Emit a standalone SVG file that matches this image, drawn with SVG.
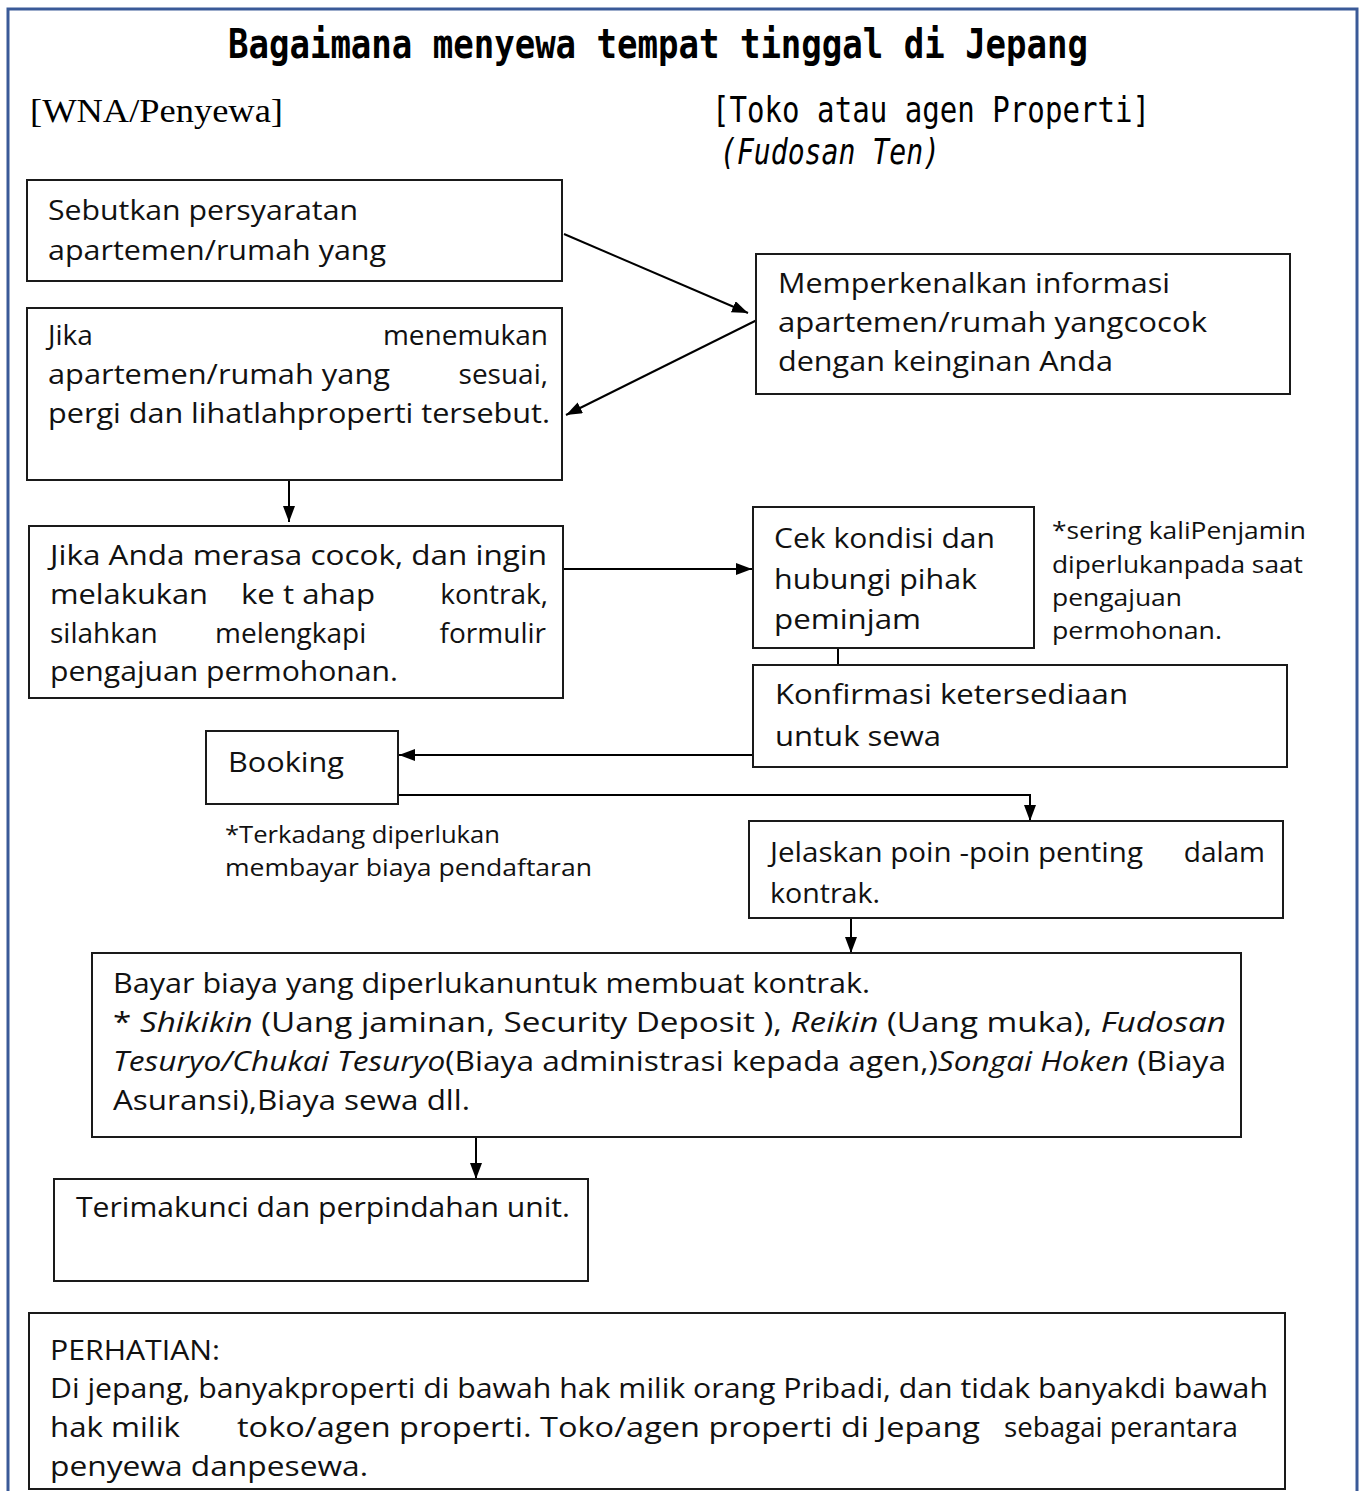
<svg xmlns="http://www.w3.org/2000/svg" width="1365" height="1491" viewBox="0 0 1365 1491">
<style>
.box{fill:#fff;stroke:#1a1a1a;stroke-width:2}
.t{font-family:"Open Sans","Noto Sans",sans-serif;font-size:28px;fill:#111}
.n{font-family:"Open Sans","Noto Sans",sans-serif;font-size:23px;fill:#111}
.g{font-family:"DejaVu Sans Mono","Liberation Mono",monospace;fill:#000}
.m{font-family:"Liberation Serif","DejaVu Serif",serif;fill:#000}
.c{fill:none;stroke:#000;stroke-width:2}
.i{font-style:italic}
</style>
<defs>
<marker id="ah" markerUnits="userSpaceOnUse" markerWidth="18" markerHeight="14" refX="16" refY="6" orient="auto">
<path d="M0,0 L16,6 L0,12 z" fill="#000"/>
</marker>
</defs>
<rect x="0" y="0" width="1365" height="1491" fill="#fff"/>
<rect x="8" y="9" width="1349" height="1500" fill="none" stroke="#3a5a98" stroke-width="3"/>

<g id="title">
<text class="g" x="228" y="58" font-size="40" font-weight="bold" textLength="860" lengthAdjust="spacingAndGlyphs">Bagaimana menyewa tempat tinggal di Jepang</text>
</g>
<g id="header-left">
<text class="m" x="30" y="122" font-size="34" textLength="253" lengthAdjust="spacingAndGlyphs">[WNA/Penyewa]</text>
</g>
<g id="header-right">
<text class="g" x="712" y="122" font-size="35" textLength="438" lengthAdjust="spacingAndGlyphs">[Toko atau agen Properti]</text>
<text class="g i" x="720" y="164" font-size="35" textLength="220" lengthAdjust="spacingAndGlyphs">(Fudosan Ten)</text>
</g>

<g id="connectors">
<path class="c" d="M564,234 L748,313" marker-end="url(#ah)"/>
<path class="c" d="M757,320 L566,415" marker-end="url(#ah)"/>
<path class="c" d="M289,481 L289,522" marker-end="url(#ah)"/>
<path class="c" d="M563,569 L752,569" marker-end="url(#ah)"/>
<path class="c" d="M838,649 L838,665"/>
<path class="c" d="M753,755 L399,755" marker-end="url(#ah)"/>
<path class="c" d="M398,795 L1030,795 L1030,821" marker-end="url(#ah)"/>
<path class="c" d="M851,918 L851,953" marker-end="url(#ah)"/>
<path class="c" d="M476,1137 L476,1179" marker-end="url(#ah)"/>
</g>

<g id="n1">
<rect class="box" x="27" y="180" width="535" height="101"/>
<text class="t" x="48" y="220" textLength="310" lengthAdjust="spacingAndGlyphs">Sebutkan persyaratan</text>
<text class="t" x="48" y="260" textLength="338" lengthAdjust="spacingAndGlyphs">apartemen/rumah yang</text>
</g>

<g id="n2">
<rect class="box" x="27" y="308" width="535" height="172"/>
<text class="t" x="48" y="345">Jika</text>
<text class="t" x="548" y="345" text-anchor="end">menemukan</text>
<text class="t" x="48" y="384" textLength="342" lengthAdjust="spacingAndGlyphs">apartemen/rumah yang</text>
<text class="t" x="548" y="384" text-anchor="end">sesuai,</text>
<text class="t" x="48" y="423" textLength="502" lengthAdjust="spacingAndGlyphs">pergi dan lihatlahproperti tersebut.</text>
</g>

<g id="n3">
<rect class="box" x="756" y="254" width="534" height="140"/>
<text class="t" x="778" y="293" textLength="392" lengthAdjust="spacingAndGlyphs">Memperkenalkan informasi</text>
<text class="t" x="778" y="332" textLength="429" lengthAdjust="spacingAndGlyphs">apartemen/rumah yangcocok</text>
<text class="t" x="778" y="371" textLength="335" lengthAdjust="spacingAndGlyphs">dengan keinginan Anda</text>
</g>

<g id="n4">
<rect class="box" x="29" y="526" width="534" height="172"/>
<text class="t" x="50" y="565" textLength="497" lengthAdjust="spacingAndGlyphs">Jika Anda merasa cocok, dan ingin</text>
<text class="t" x="50" y="604" textLength="158" lengthAdjust="spacingAndGlyphs">melakukan</text>
<text class="t" x="241" y="604" textLength="134" lengthAdjust="spacingAndGlyphs">ke t ahap</text>
<text class="t" x="548" y="604" text-anchor="end">kontrak,</text>
<text class="t" x="50" y="643">silahkan</text>
<text class="t" x="215" y="643">melengkapi</text>
<text class="t" x="546" y="643" text-anchor="end">formulir</text>
<text class="t" x="50" y="681" textLength="348" lengthAdjust="spacingAndGlyphs">pengajuan permohonan.</text>
</g>

<g id="n5">
<rect class="box" x="753" y="507" width="281" height="141"/>
<text class="t" x="774" y="548" textLength="221" lengthAdjust="spacingAndGlyphs">Cek kondisi dan</text>
<text class="t" x="774" y="589" textLength="203" lengthAdjust="spacingAndGlyphs">hubungi pihak</text>
<text class="t" x="774" y="629" textLength="147" lengthAdjust="spacingAndGlyphs">peminjam</text>
</g>

<g id="note-penjamin">
<text class="n" x="1052" y="539" textLength="254" lengthAdjust="spacingAndGlyphs">*sering kaliPenjamin</text>
<text class="n" x="1052" y="573" textLength="251" lengthAdjust="spacingAndGlyphs">diperlukanpada saat</text>
<text class="n" x="1052" y="606" textLength="130" lengthAdjust="spacingAndGlyphs">pengajuan</text>
<text class="n" x="1052" y="639" textLength="170" lengthAdjust="spacingAndGlyphs">permohonan.</text>
</g>

<g id="n6">
<rect class="box" x="753" y="665" width="534" height="102"/>
<text class="t" x="775" y="704" textLength="353" lengthAdjust="spacingAndGlyphs">Konfirmasi ketersediaan</text>
<text class="t" x="775" y="746" textLength="166" lengthAdjust="spacingAndGlyphs">untuk sewa</text>
</g>

<g id="n7">
<rect class="box" x="206" y="731" width="192" height="73"/>
<text class="t" x="228" y="772" textLength="116" lengthAdjust="spacingAndGlyphs">Booking</text>
</g>

<g id="note-booking">
<text class="n" x="225" y="843" textLength="275" lengthAdjust="spacingAndGlyphs">*Terkadang diperlukan</text>
<text class="n" x="225" y="876" textLength="367" lengthAdjust="spacingAndGlyphs">membayar biaya pendaftaran</text>
</g>

<g id="n8">
<rect class="box" x="749" y="821" width="534" height="97"/>
<text class="t" x="770" y="862" textLength="373" lengthAdjust="spacingAndGlyphs">Jelaskan poin -poin penting</text>
<text class="t" x="1265" y="862" text-anchor="end">dalam</text>
<text class="t" x="770" y="903" textLength="110" lengthAdjust="spacingAndGlyphs">kontrak.</text>
</g>

<g id="n9">
<rect class="box" x="92" y="953" width="1149" height="184"/>
<text class="t" x="113" y="993" textLength="757" lengthAdjust="spacingAndGlyphs">Bayar biaya yang diperlukanuntuk membuat kontrak.</text>
<text class="t" x="113" y="1032" textLength="1113" lengthAdjust="spacingAndGlyphs">*  <tspan class="i">Shikikin</tspan>  (Uang jaminan, Security Deposit ),  <tspan class="i">Reikin</tspan>  (Uang muka),  <tspan class="i">Fudosan</tspan></text>
<text class="t" x="113" y="1071" textLength="1113" lengthAdjust="spacingAndGlyphs"><tspan class="i">Tesuryo/Chukai Tesuryo</tspan>(Biaya administrasi kepada agen,)<tspan class="i">Songai Hoken</tspan> (Biaya</text>
<text class="t" x="113" y="1110" textLength="357" lengthAdjust="spacingAndGlyphs">Asuransi),Biaya sewa dll.</text>
</g>

<g id="n10">
<rect class="box" x="54" y="1179" width="534" height="102"/>
<text class="t" x="76" y="1217" textLength="494" lengthAdjust="spacingAndGlyphs">Terimakunci dan perpindahan unit.</text>
</g>

<g id="n11">
<rect class="box" x="29" y="1313" width="1256" height="176"/>
<text class="t" x="50" y="1360" textLength="170" lengthAdjust="spacingAndGlyphs">PERHATIAN:</text>
<text class="t" x="50" y="1398" textLength="1218" lengthAdjust="spacingAndGlyphs">Di jepang, banyakproperti di bawah hak milik orang Pribadi, dan tidak banyakdi bawah</text>
<text class="t" x="50" y="1437" textLength="130" lengthAdjust="spacingAndGlyphs">hak milik</text>
<text class="t" x="237" y="1437" textLength="743" lengthAdjust="spacingAndGlyphs">toko/agen  properti.  Toko/agen  properti  di Jepang</text>
<text class="t" x="1004" y="1437" textLength="234" lengthAdjust="spacingAndGlyphs">sebagai perantara</text>
<text class="t" x="50" y="1476" textLength="318" lengthAdjust="spacingAndGlyphs">penyewa danpesewa.</text>
</g>
</svg>
